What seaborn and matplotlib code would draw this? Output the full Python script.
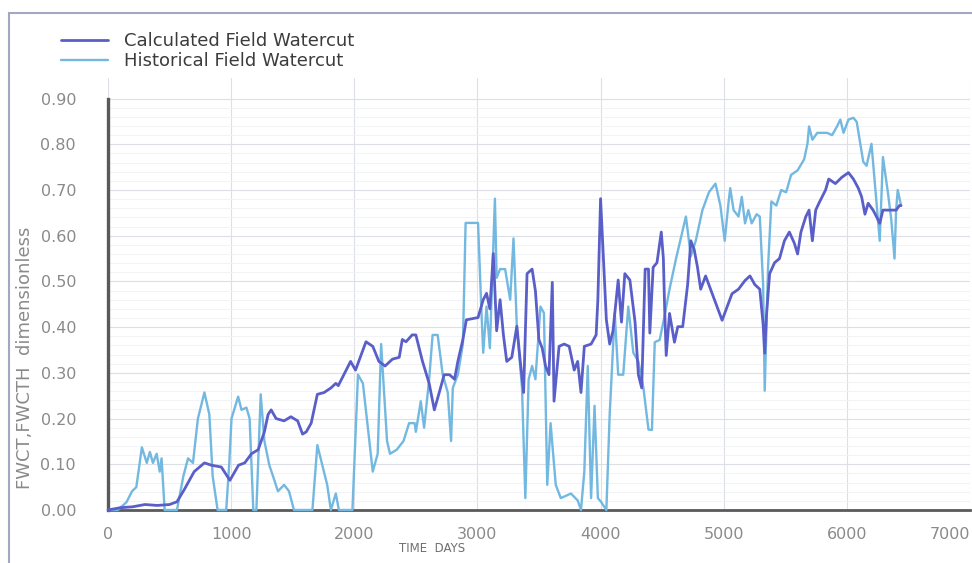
import matplotlib
matplotlib.use("Agg")
import matplotlib.pyplot as plt
import seaborn as sns
import pandas as pd
from matplotlib.patches import Rectangle
from matplotlib.ticker import FixedLocator

# ---------------- data ----------------
calc_days = [0, 100, 200, 300, 400, 500, 560, 620, 700, 783, 840, 920, 990, 1030, 1060, 1110,
             1165, 1220, 1270, 1300, 1325, 1365, 1430, 1485, 1540, 1580, 1610, 1650, 1700, 1755,
             1810, 1850, 1870, 1915, 1970, 2010, 2095, 2150, 2200, 2250, 2310, 2365, 2390, 2420,
             2470, 2500, 2554, 2608, 2650, 2690, 2730, 2773, 2814, 2841, 2882, 2910, 3005, 3047,
             3074, 3101, 3129, 3156, 3184, 3211, 3238, 3279, 3320, 3348, 3375, 3403, 3444, 3471,
             3499, 3526, 3553, 3581, 3608, 3622, 3663, 3704, 3745, 3786, 3814, 3841, 3868, 3923,
             3964, 3978, 4000, 4019, 4047, 4074, 4101, 4143, 4170, 4197, 4238, 4280, 4307, 4334,
             4362, 4389, 4400, 4427, 4458, 4493, 4510, 4520, 4533, 4560, 4600, 4627, 4667, 4707,
             4733, 4760, 4787, 4813, 4853, 4907, 4947, 4987, 5027, 5067, 5120, 5173, 5213, 5253,
             5293, 5320, 5333, 5347, 5373, 5413, 5453, 5493, 5533, 5573, 5600, 5627, 5667, 5693,
             5720, 5747, 5773, 5827, 5853, 5907, 5960, 6013, 6053, 6093, 6120, 6147, 6173, 6213,
             6240, 6267, 6293, 6347, 6400, 6427, 6440]
calc_fwct = [0.0, 0.005, 0.007, 0.012, 0.01, 0.012, 0.018, 0.045, 0.084, 0.103, 0.098, 0.094, 0.065,
             0.084, 0.098, 0.103, 0.123, 0.132, 0.171, 0.209, 0.219, 0.20, 0.195, 0.204, 0.195,
             0.166, 0.171, 0.19, 0.253, 0.257, 0.267, 0.277, 0.272, 0.296, 0.325, 0.306, 0.368,
             0.358, 0.325, 0.315, 0.33, 0.334, 0.373, 0.368, 0.383, 0.383, 0.325, 0.277, 0.219,
             0.257, 0.296, 0.296, 0.286, 0.325, 0.373, 0.416, 0.421, 0.46, 0.474, 0.44, 0.561,
             0.392, 0.46, 0.383, 0.325, 0.334, 0.402, 0.325, 0.257, 0.517, 0.527, 0.479, 0.373,
             0.354, 0.315, 0.296, 0.498, 0.238, 0.358, 0.363, 0.358, 0.306, 0.325, 0.257, 0.358,
             0.363, 0.383, 0.46, 0.681, 0.575, 0.416, 0.363, 0.392, 0.503, 0.411, 0.517, 0.503,
             0.411, 0.296, 0.267, 0.527, 0.527, 0.387, 0.531, 0.541, 0.608, 0.55, 0.444, 0.338,
             0.43, 0.367, 0.401, 0.401, 0.493, 0.589, 0.57, 0.531, 0.483, 0.512, 0.473, 0.444,
             0.415, 0.444, 0.473, 0.483, 0.502, 0.512, 0.493, 0.483, 0.406, 0.343, 0.425, 0.517,
             0.541, 0.55, 0.589, 0.608, 0.584, 0.56, 0.608, 0.642, 0.656, 0.589, 0.656, 0.671,
             0.70, 0.724, 0.714, 0.728, 0.738, 0.724, 0.704, 0.685, 0.647, 0.671, 0.656, 0.642,
             0.627, 0.656, 0.656, 0.656, 0.666, 0.666]

hist_days = [0, 80, 150, 195, 230, 275, 315, 340, 365, 395, 420, 435, 460, 560, 612, 650, 690, 730,
             783, 823, 850, 890, 960, 985, 1003, 1057, 1084, 1124, 1150, 1180, 1205, 1240, 1270,
             1310, 1340, 1380, 1430, 1470, 1510, 1660, 1700, 1780, 1810, 1850, 1875, 1985, 2030,
             2070, 2150, 2190, 2218, 2266, 2290, 2345, 2400, 2445, 2490, 2500, 2540, 2567, 2608,
             2636, 2677, 2718, 2759, 2786, 2800, 2841, 2882, 2904, 3005, 3033, 3047, 3074, 3101,
             3142, 3156, 3184, 3225, 3266, 3293, 3320, 3362, 3389, 3416, 3444, 3471, 3512, 3540,
             3567, 3594, 3636, 3677, 3759, 3814, 3841, 3868, 3896, 3923, 3951, 3978, 4006, 4047,
             4074, 4115, 4143, 4184, 4225, 4266, 4307, 4348, 4389, 4417, 4440, 4480, 4520, 4560,
             4613, 4693, 4733, 4773, 4827, 4880, 4933, 4973, 5008, 5040, 5053, 5080, 5120, 5147,
             5173, 5200, 5227, 5267, 5293, 5320, 5333, 5360, 5387, 5427, 5467, 5507, 5547, 5600,
             5653, 5680, 5693, 5720, 5760, 5840, 5880, 5920, 5947, 5973, 6013, 6053, 6080, 6133,
             6160, 6200, 6240, 6267, 6293, 6333, 6360, 6387, 6400, 6413, 6440]
hist_fwcth = [0.0, 0.0, 0.017, 0.041, 0.05, 0.137, 0.103, 0.127, 0.103, 0.123, 0.084, 0.113, 0.0,
              0.0, 0.074, 0.113, 0.103, 0.20, 0.257, 0.209, 0.074, 0.0, 0.0, 0.103, 0.20, 0.248,
              0.219, 0.224, 0.20, 0.0, 0.0, 0.253, 0.151, 0.098, 0.074, 0.041, 0.055, 0.041, 0.0,
              0.0, 0.142, 0.055, 0.0, 0.036, 0.0, 0.0, 0.296, 0.277, 0.084, 0.123, 0.363, 0.151,
              0.123, 0.132, 0.151, 0.19, 0.19, 0.171, 0.238, 0.18, 0.286, 0.383, 0.383, 0.296,
              0.257, 0.151, 0.267, 0.296, 0.363, 0.628, 0.628, 0.431, 0.344, 0.445, 0.354, 0.681,
              0.508, 0.527, 0.527, 0.46, 0.594, 0.402, 0.267, 0.026, 0.286, 0.315, 0.286, 0.445,
              0.431, 0.055, 0.19, 0.055, 0.026, 0.036, 0.021, 0.0, 0.084, 0.315, 0.026, 0.228,
              0.026, 0.017, 0.0, 0.209, 0.431, 0.296, 0.296, 0.445, 0.344, 0.325, 0.267, 0.176,
              0.175, 0.367, 0.372, 0.425, 0.483, 0.55, 0.642, 0.555, 0.589, 0.656, 0.695, 0.714,
              0.666, 0.589, 0.675, 0.704, 0.656, 0.642, 0.685, 0.627, 0.656, 0.627, 0.647, 0.642,
              0.493, 0.261, 0.531, 0.675, 0.666, 0.70, 0.695, 0.733, 0.743, 0.767, 0.801, 0.839,
              0.81, 0.825, 0.825, 0.82, 0.839, 0.854, 0.825, 0.854, 0.858, 0.849, 0.762, 0.753,
              0.801, 0.675, 0.589, 0.772, 0.695, 0.637, 0.55, 0.656, 0.70, 0.666]

series_labels = ["Calculated Field Watercut", "Historical Field Watercut"]
x_ticks = [0, 1000, 2000, 3000, 4000, 5000, 6000, 7000]
y_ticks = [0.00, 0.10, 0.20, 0.30, 0.40, 0.50, 0.60, 0.70, 0.80, 0.90]
x_label = "TIME  DAYS"
y_label = "FWCT,FWCTH  dimensionless"

# ---------------- style ----------------
sns.set_style("white")
plt.rcParams["font.family"] = ["DejaVu Sans"]

C_CALC = "#5a5ec8"
C_HIST = "#72b8e0"
AX_COL = "#5a5a5a"
TXT = "#8a8a8a"

W, H = 972, 563
fig = plt.figure(figsize=(W / 100, H / 100), dpi=100)
fig.patch.set_facecolor("white")
ax = fig.add_axes([108 / W, 53 / H, 862 / W, 432 / H])

calc_df = pd.DataFrame({"days": calc_days, "value": calc_fwct})
hist_df = pd.DataFrame({"days": hist_days, "value": hist_fwcth})

sns.lineplot(data=calc_df, x="days", y="value", ax=ax, color=C_CALC, lw=2.0,
             label=series_labels[0], sort=False, estimator=None, zorder=4)
sns.lineplot(data=hist_df, x="days", y="value", ax=ax, color=C_HIST, lw=1.7,
             label=series_labels[1], sort=False, estimator=None, zorder=3)
for ln in ax.lines:
    ln.set_clip_on(False)

ax.set_xlim(0, 7000)
ax.set_ylim(0, 0.945)
ax.set_xlabel("")
ax.set_ylabel("")

ax.set_xticks(x_ticks, labels=[str(t) for t in x_ticks])
ax.set_yticks(y_ticks, labels=[f"{t:.2f}" for t in y_ticks])
ax.xaxis.set_minor_locator(FixedLocator([d for d in range(0, 7001, 200)]))
ax.yaxis.set_minor_locator(FixedLocator([i * 0.02 for i in range(0, 46) if i * 0.02 <= 0.9001]))
ax.get_xticklabels()[-1].set_horizontalalignment("right")

ax.grid(which="major", color="#dcdfe6", lw=0.8)
ax.grid(which="minor", axis="y", color="#eff1f5", lw=0.6)
ax.set_axisbelow(True)

for s in ["top", "right"]:
    ax.spines[s].set_visible(False)
ax.spines["left"].set_bounds(0, 0.9)
ax.spines["left"].set_color(AX_COL)
ax.spines["left"].set_linewidth(2.4)
ax.spines["bottom"].set_color(AX_COL)
ax.spines["bottom"].set_linewidth(2.0)

ax.tick_params(axis="y", which="major", direction="out", length=11, width=2.2,
               color=AX_COL, pad=12, labelsize=11.5, labelcolor=TXT)
ax.tick_params(axis="y", which="minor", direction="out", length=6, width=1.1, color=AX_COL)
ax.tick_params(axis="x", which="major", direction="out", length=7, width=1.4,
               color=AX_COL, pad=5, labelsize=11.5, labelcolor=TXT)
ax.tick_params(axis="x", which="minor", direction="out", length=3.5, width=1.0, color=AX_COL)

# legend
handles, labels = ax.get_legend_handles_labels()
ax.get_legend().remove()
fig.legend(handles, labels, loc="upper left", bbox_to_anchor=(61 / W, 1 - 32 / H),
           frameon=False, fontsize=13, handlelength=2.6, handletextpad=0.9,
           labelspacing=0.12, borderpad=0, borderaxespad=0, labelcolor="#3c3c3c")

fig.text(432 / W, 1 - 548 / H, x_label, ha="center", va="center", fontsize=8.5, color="#707070")
fig.text(25 / W, 1 - 358 / H, y_label, rotation=90, ha="center", va="center",
         fontsize=13, color="#8a8a8a")

fig.patches.append(Rectangle((9 / W, -0.1), 1.2, 1.1 - 13 / H, transform=fig.transFigure,
                             fill=False, edgecolor="#a4a7c2", lw=1.5, zorder=0))

fig.savefig("out.png", dpi=100, facecolor="white")
